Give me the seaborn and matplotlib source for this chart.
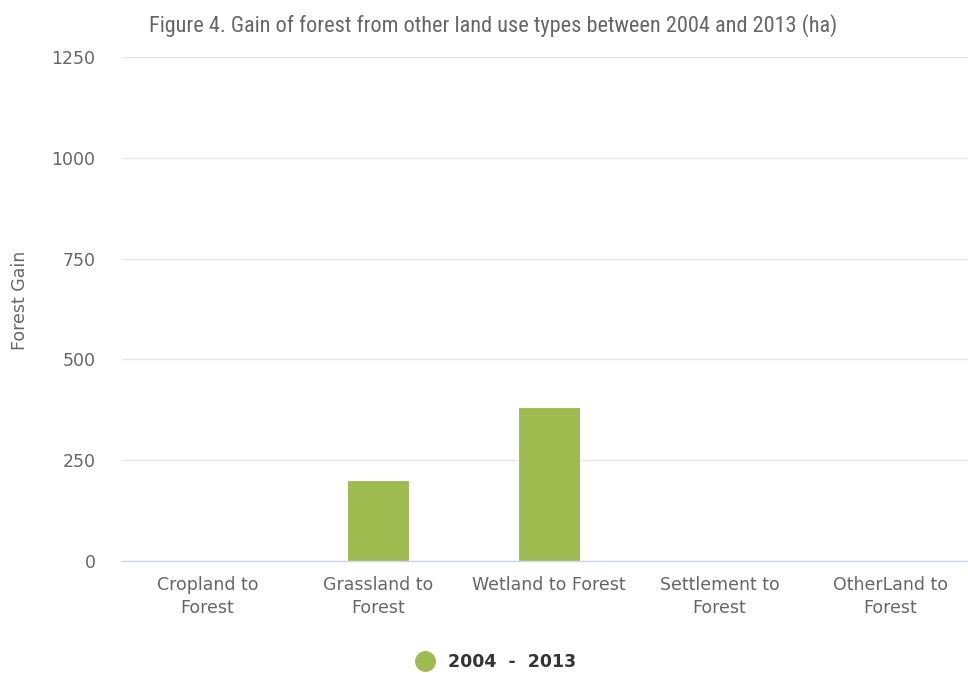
import matplotlib
matplotlib.use("Agg")
import matplotlib.pyplot as plt
from matplotlib import font_manager
from matplotlib.lines import Line2D
import seaborn as sns
import pandas as pd

categories = ["Cropland to\nForest", "Grassland to\nForest", "Wetland to Forest",
              "Settlement to\nForest", "OtherLand to\nForest"]
gain = [0, 200, 383, 0, 0]
series_name = "2004 - 2013"
y_ticks = [0, 250, 500, 750, 1000, 1250]

sns.set_theme(style="white")
plt.rcParams["font.family"] = ["DejaVu Sans"]

# narrow family for the heading, if one is installed
installed = {f.name for f in font_manager.fontManager.ttflist}
narrow = [n for n in ["Roboto Condensed", "Liberation Sans Narrow", "DejaVu Sans Condensed",
                      "Open Sans Condensed"] if n in installed]
title_family = narrow[0] if narrow else "DejaVu Sans"

df = pd.DataFrame({"category": categories, "gain": gain})

fig = plt.figure(figsize=(9.68, 6.73), dpi=100)
ax = fig.add_axes([0.126, 0.1664, 0.882, 0.7489])

bar_color = "#9dbb4f"
sns.barplot(data=df, x="category", y="gain", color=bar_color, width=0.36,
            saturation=1, ax=ax, edgecolor="white", linewidth=0.8)

ax.set_ylim(0, 1250)
ax.set_yticks(y_ticks)
ax.set_yticklabels([str(t) for t in y_ticks])
ax.yaxis.grid(True, color="#e6e6e6", linewidth=1)
ax.set_axisbelow(True)
for side in ["top", "right", "left"]:
    ax.spines[side].set_visible(False)
ax.spines["bottom"].set_color("#ccd6eb")
ax.spines["bottom"].set_linewidth(1)
ax.tick_params(axis="both", length=0, colors="#666666", labelsize=12.5)
ax.tick_params(axis="y", pad=19)
ax.tick_params(axis="x", pad=10.5)
for lbl in ax.get_xticklabels():
    lbl.set_linespacing(1.4)
ax.set_xlabel("")
ax.set_ylabel("Forest Gain", color="#666666", fontsize=12.5)
ax.yaxis.set_label_coords(-0.109, 0.518)

title_size = 16 if narrow else 12.5
fig.text(0.509, 0.962, "Figure 4. Gain of forest from other land use types between 2004 and 2013 (ha)",
         ha="center", va="center", fontsize=title_size, color="#666666", family=title_family)

handle = Line2D([], [], marker="o", linestyle="", markersize=14,
                markerfacecolor=bar_color, markeredgecolor=bar_color)
fig.legend([handle], [series_name.replace(" - ", "  -  ")], loc="center",
           bbox_to_anchor=(0.508, 0.016), frameon=False, handletextpad=0.3,
           prop={"weight": "bold", "size": 12.5}, labelcolor="#333333")

fig.savefig("out.png", dpi=100)
